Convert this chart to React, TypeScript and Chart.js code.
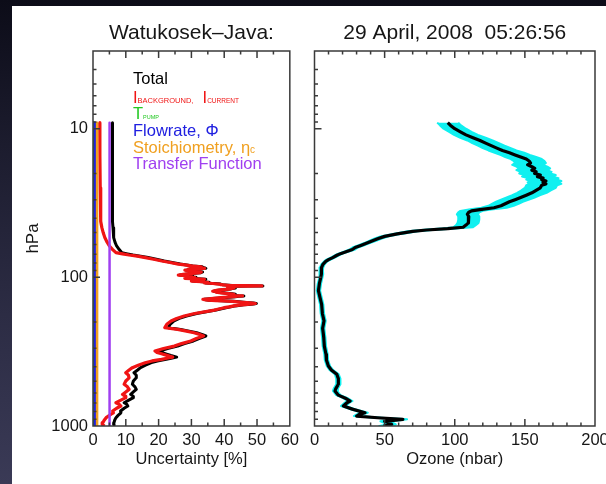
import React, { useEffect, useRef } from "react";
import { Chart, registerables } from "chart.js";

Chart.register(...registerables);

const FONT_FAMILY = '"Liberation Sans", Arial, Helvetica, sans-serif';
const TEXT_COLOR = "#161616";
const AXIS_COLOR = "#3a3a3a";

// ---------- Left panel: uncertainty contributions [%] vs pressure [hPa] ----------
const ibgPressure = [
  9.1, 15, 25, 35, 42, 46.3, 50, 54, 58, 61.5, 65, 68.2, 69.5, 70.7, 72, 73.6, 75.5, 77.6, 79.5, 81.4, 82.5,
  83.8, 84.5, 85, 85.5, 86, 86.5, 87, 87.5, 88, 89, 89.5, 90.5, 91, 92, 93, 94, 94.5, 95.5, 96.5, 97.5,
  98, 99, 100, 100.8, 101.5, 102.3, 103, 103.8, 104.5, 105.3, 106, 107, 108, 109, 110, 111, 112, 113, 113.5, 113.8,
  114.2, 114.5, 114.8, 115.4, 116, 117, 118, 119, 120, 121, 122, 123, 124, 125, 126, 127, 128, 129, 130, 131,
  132, 133, 133.4, 134, 135, 136, 137, 138, 139, 139.8, 140.5, 141.5, 142.5, 143.3, 144, 145, 146, 147, 148, 149,
  150, 151, 152, 153, 154, 155, 156, 158, 160, 162, 164, 166, 168,
  175, 182, 189, 196.5, 207, 218, 224, 230, 236, 242, 248, 258, 268, 279, 290, 301, 313, 320, 327, 335,
  344, 350, 356, 365, 375, 390, 405, 420, 438, 455, 474, 498, 524, 545, 567, 590, 613, 630, 645, 670,
  697, 715, 734, 760, 793, 815, 834, 855, 879, 915, 950, 975, 1000,
];
const ibgUncert = [
  2.05, 2.1, 2.2, 2.3, 2.4, 2.7, 3.1, 3.6, 4.3, 5.0, 6.0, 7.0, 9, 11, 13.5, 16, 18.5, 21, 23.5, 26, 28,
  30, 32, 33, 30.5, 31, 33.5, 34, 31, 29, 30.5, 28, 30, 31, 33, 32.5, 30.5, 29, 27.5, 26, 28.5,
  30, 29, 31, 29.5, 28, 31.5, 34, 32, 31, 32.5, 30, 33, 35, 34, 36.5, 38.5, 39, 41, 42, 46,
  51.5, 47, 44, 42.5, 41, 42.5, 43, 42, 41.5, 39.5, 38, 37, 36.5, 38, 37.5, 39, 40.5, 42, 43, 41.5,
  42, 44, 45.6, 44, 43, 41, 39, 37.5, 36, 34.5, 33.5, 34, 35, 37.5, 40, 42.5, 44, 45.5, 47, 48.5,
  49.5, 48.5, 47, 45.5, 44.5, 43.5, 42.6, 41.5, 40, 39, 38, 37, 35.7,
  31, 27.8, 25.5, 23.8, 22.5, 21.9, 25.8, 28.5, 30.8, 32.5, 33.7, 31.5, 29.8, 27, 24.8, 21.5, 18.9, 19.5, 20.9, 22.5,
  24.3, 22.5, 20.9, 18, 15.9, 13.8, 12, 11, 10, 10.8, 11, 10, 9.5, 10.5, 11, 10, 9, 9.8, 10, 8.5,
  7, 8, 8.5, 7.2, 6, 6.2, 5.5, 4.8, 4, 3.4, 3, 2.8, 3.5,
];
const totalPressure = ibgPressure;
const totalUncert = [
  5.9, 5.9, 5.9, 5.95, 6.0, 6.1, 6.2, 6.4, 6.7, 7.2, 8.0, 8.8, 10.5, 12.2, 14.5, 16.8, 19.3, 21.7, 24.1, 26.6, 28.5,
  30.4, 32.4, 33.4, 30.9, 31.4, 33.9, 34.4, 31.4, 29.4, 30.9, 28.4, 30.4, 31.4, 33.4, 32.9, 30.9, 29.4, 27.9, 26.5, 28.9,
  30.4, 29.4, 31.4, 29.9, 28.5, 31.9, 34.4, 32.4, 31.4, 32.9, 30.4, 33.4, 35.4, 34.4, 36.9, 38.9, 39.4, 41.4, 42.4, 46.3,
  51.8, 47.3, 44.4, 42.9, 41.4, 42.9, 43.4, 42.4, 41.9, 39.9, 38.4, 37.4, 36.9, 38.4, 37.9, 39.4, 40.9, 42.4, 43.4, 41.9,
  42.4, 44.4, 46, 44.4, 43.4, 41.4, 39.4, 37.9, 36.4, 34.9, 33.9, 34.4, 35.4, 37.9, 40.4, 42.9, 44.4, 45.9, 47.4, 48.9,
  49.8, 48.9, 47.4, 45.9, 44.9, 43.9, 43, 42, 40.5, 39.5, 38.5, 37.5, 36.2,
  31.6, 28.5, 26.3, 24.7, 23.5, 23, 26.7, 29.3, 31.6, 33.2, 34.4, 32.3, 30.6, 27.9, 25.8, 22.7, 20.3, 20.9, 22.2, 23.7,
  25.5, 23.8, 22.3, 19.6, 17.8, 16, 14.5, 13.6, 12.5, 13.2, 13.2, 12.3, 12, 12.8, 13.2, 12.3, 11.5, 12.2, 12.3, 10.9,
  9.5, 10.3, 10.6, 9.5, 8.4, 8.5, 8, 7.5, 7, 6.6, 6.4, 6.3, 6.6,
];
const constPressure = [9.1, 1000];
const tpumpUncert = [0.3, 0.3];
const flowUncert = [0.55, 0.55];
const stoichUncert = [1.25, 1.25];
const transferUncert = [5.05, 5.05];

// ---------- Right panel: ozone partial pressure [nbar] vs pressure [hPa] ----------
const ozonePressure = [
  9.1, 9.5, 10, 10.5, 11, 11.5, 12, 12.5, 13, 13.5, 14, 14.5, 15, 15.5, 16, 16.5, 17, 17.5, 18, 18.5,
  19, 19.5, 20, 20.5, 21, 21.5, 22, 22.5, 23, 23.5, 24, 25, 26, 27, 28, 29, 30, 31, 32, 33,
  34, 35, 35.7, 36.5, 37.6, 39, 41, 43, 44.5, 46, 47, 48, 49, 51, 53, 55, 57, 59, 61, 63,
  65, 67, 69, 71, 73.6, 76, 78, 81.7, 86, 90, 95, 100, 110, 123, 140, 152, 175, 196, 220, 254,
  290, 329, 360, 395, 420, 449, 480, 524, 560, 581, 620, 650, 679, 700, 734, 770, 814, 835, 857, 880,
  902, 915, 930, 950, 975, 1000,
];
const ozoneValue = [
  95, 97, 100, 104, 108, 113, 118, 122, 126, 130, 134, 139, 143, 147, 151, 153, 154, 152, 155, 157,
  155, 158, 157, 161, 159, 163, 162, 165, 163, 165, 162, 161, 158, 155, 151, 147, 143, 139, 136, 133,
  128, 118, 112, 110, 109, 110, 110, 109.5, 108, 106, 95, 80, 70, 59, 50, 45, 41, 37, 33, 29,
  27, 23, 19, 16, 13, 10, 8, 6, 5, 4.8, 5, 4.5, 3.5, 2.8, 4.2, 5.1, 5.6, 6.8, 5.8, 6.6,
  7, 8.2, 8.5, 9.9, 12, 15.9, 17, 17, 15.2, 14.6, 17, 22, 25.4, 23, 20.6, 27, 36, 32, 30.1, 45,
  63, 58, 50, 52.7, 55, 49.2,
];
const ozoneErr = [
  7.5, 7.5, 8, 8, 8.5, 9, 9, 9.5, 9.5, 10, 10, 10.5, 10.5, 11, 11, 11, 11, 11, 11, 11,
  11, 11, 11, 11, 11, 11, 11, 11, 11, 11, 11, 11, 10.5, 10.5, 10, 10, 10, 9.5, 9.5, 9,
  9, 8, 8, 7.5, 7.5, 7.5, 7.5, 7.5, 7, 7, 5, 4, 3.5, 3, 3, 2.5, 2.5, 2, 2, 2,
  2, 1.5, 1.5, 1.5, 1.5, 1.5, 1.2, 1.2, 1.2, 1.2, 1.2, 1.2, 1.2, 1.2, 1.2, 1.2, 1.2, 1.2, 1.2, 1.2,
  1.2, 1.2, 1.2, 1.2, 1.3, 1.4, 1.5, 1.5, 1.5, 1.5, 1.5, 1.6, 1.7, 1.7, 1.7, 1.8, 2, 2, 2, 2.5,
  3, 3, 3, 3, 3, 3,
];

// ---------- Axes ----------
const uncertTicks = [0, 10, 20, 30, 40, 50, 60];
const uncertMinor = [5, 15, 25, 35, 45, 55];
const ozoneTicks = [0, 50, 100, 150, 200];
const ozoneMinor = [10, 20, 30, 40, 60, 70, 80, 90, 110, 120, 130, 140, 160, 170, 180, 190];
const pressureTicks = [10, 100, 1000];
const pressureMinor = [3, 4, 5, 6, 7, 8, 9, 20, 30, 40, 50, 60, 70, 80, 90, 200, 300, 400, 500, 600, 700, 800, 900];

// ---------- Legend ----------
const legendEntries: { color: string; parts: [string, number][] }[] = [
  { color: "#000000", parts: [["Total", 16.5]] },
  { color: "#f01414", parts: [["I", 16.5], ["BACKGROUND", 7.5], [",", 7.5], ["  ", 16.5], ["I", 16.5], ["CURRENT", 6.5]] },
  { color: "#22c822", parts: [["T", 16.5], ["PUMP", 5.5]] },
  { color: "#2020e0", parts: [["Flowrate, Φ", 16.5]] },
  { color: "#f0a020", parts: [["Stoichiometry, η", 16.5], ["c", 10]] },
  { color: "#a040f0", parts: [["Transfer Function", 16.5]] },
];
const legendBaselines = [33, 52, 67.7, 85, 102, 118.3];

type Pt = { x: number; y: number };
const toPoints = (pressure: number[], values: number[]): Pt[] =>
  pressure.map((p, i) => ({ x: values[i], y: p }));

function makeFramePlugin(xMajor: number[], xMinor: number[], yMajor: number[], yMinor: number[]) {
  return {
    id: "frameTicks",
    afterDatasetsDraw(chart: any) {
      const { ctx, chartArea: a } = chart;
      const xs = chart.scales.x;
      const ys = chart.scales.y;
      ctx.save();
      ctx.strokeStyle = AXIS_COLOR;
      ctx.lineWidth = 1.5;
      ctx.beginPath();
      ctx.rect(a.left, a.top, a.right - a.left, a.bottom - a.top);
      const tx = (vals: number[], len: number) =>
        vals.forEach((v) => {
          const px = xs.getPixelForValue(v);
          ctx.moveTo(px, a.bottom);
          ctx.lineTo(px, a.bottom - len);
          ctx.moveTo(px, a.top);
          ctx.lineTo(px, a.top + len);
        });
      const ty = (vals: number[], len: number) =>
        vals.forEach((v) => {
          const py = ys.getPixelForValue(v);
          ctx.moveTo(a.left, py);
          ctx.lineTo(a.left + len, py);
        });
      tx(xMajor, 7);
      tx(xMinor, 3.5);
      ty(yMajor, 7);
      ty(yMinor, 3.5);
      ctx.stroke();
      ctx.restore();
    },
  };
}

const legendPlugin = {
  id: "profileLegend",
  afterDraw(chart: any) {
    const { ctx, chartArea: a } = chart;
    ctx.save();
    ctx.textBaseline = "alphabetic";
    ctx.textAlign = "left";
    legendEntries.forEach((entry, i) => {
      let x = a.left + 40;
      const y = a.top + legendBaselines[i];
      ctx.fillStyle = entry.color;
      entry.parts.forEach(([text, size]) => {
        ctx.font = `${size}px ${FONT_FAMILY}`;
        ctx.fillText(text, x, y);
        x += ctx.measureText(text).width;
      });
    });
    ctx.restore();
  },
};

function profile(label: string, pressure: number[], values: number[], color: string, width: number, order: number) {
  return {
    label,
    data: toPoints(pressure, values),
    borderColor: color,
    backgroundColor: color,
    borderWidth: width,
    borderJoinStyle: "round",
    borderCapStyle: "butt",
    pointRadius: 0,
    pointHoverRadius: 0,
    showLine: true,
    fill: false,
    tension: 0,
    order,
  };
}

const tickFont = { family: FONT_FAMILY, size: 16.5, weight: "normal" as const };
const titleFont = { family: FONT_FAMILY, size: 21, weight: "normal" as const };

function xScale(min: number, max: number, ticks: number[], title: string) {
  return {
    type: "linear" as const,
    min,
    max,
    afterBuildTicks: (s: any) => {
      s.ticks = ticks.map((v) => ({ value: v }));
    },
    afterFit: (s: any) => {
      s.height = 58;
    },
    grid: { display: false, drawTicks: false },
    border: { display: false },
    ticks: { font: tickFont, color: TEXT_COLOR, padding: 5, autoSkip: false, maxRotation: 0, callback: (v: any) => String(v) },
    title: { display: true, text: title, font: tickFont, color: TEXT_COLOR, padding: { top: 0, bottom: 15 } },
  };
}

function yScale(showLabels: boolean, width: number) {
  return {
    type: "logarithmic" as const,
    min: 3,
    max: 1000,
    reverse: true,
    afterBuildTicks: (s: any) => {
      s.ticks = pressureTicks.map((v) => ({ value: v }));
    },
    afterFit: (s: any) => {
      s.width = width;
    },
    grid: { display: false, drawTicks: false },
    border: { display: false },
    ticks: { display: showLabels, font: tickFont, color: TEXT_COLOR, padding: 5, autoSkip: false, callback: (v: any) => String(v) },
    title: {
      display: showLabels,
      text: "hPa",
      font: { family: FONT_FAMILY, size: 17, weight: "normal" as const },
      color: TEXT_COLOR,
      padding: { top: 11, bottom: 0 },
    },
  };
}

function titlePlugin(text: string) {
  return {
    display: true,
    text,
    font: titleFont,
    color: TEXT_COLOR,
    fullSize: false,
    padding: { top: 15, bottom: 4.8 },
  };
}

export default function App() {
  const leftRef = useRef<HTMLCanvasElement>(null);
  const rightRef = useRef<HTMLCanvasElement>(null);

  useEffect(() => {
    const left = new Chart(leftRef.current as HTMLCanvasElement, {
      type: "scatter",
      data: {
        datasets: [
          profile("Total", totalPressure, totalUncert, "#000000", 3, 6),
          profile("I background, I current", ibgPressure, ibgUncert, "#f01414", 3.2, 5),
          profile("T pump", constPressure, tpumpUncert, "#22c822", 2.5, 4),
          profile("Flowrate, Φ", constPressure, flowUncert, "#2020e0", 2.5, 3),
          profile("Stoichiometry, ηc", constPressure, stoichUncert, "#f0a020", 2.5, 2),
          profile("Transfer Function", constPressure, transferUncert, "#a040f0", 2.5, 1),
        ] as any,
      },
      options: {
        animation: false,
        responsive: false,
        events: [],
        layout: { padding: { left: 0, right: 10, top: 0, bottom: 0 } },
        plugins: {
          legend: { display: false },
          tooltip: { enabled: false },
          title: titlePlugin("Watukosek–Java:") as any,
        },
        scales: {
          x: xScale(0, 60, uncertTicks, "Uncertainty [%]") as any,
          y: yScale(true, 81) as any,
        },
      },
      plugins: [makeFramePlugin(uncertTicks, uncertMinor, pressureTicks, pressureMinor), legendPlugin],
    });

    const bandPoints: Pt[] = [
      ...ozonePressure.map((p, i) => ({ x: ozoneValue[i] - ozoneErr[i], y: p })),
      ...ozonePressure
        .map((p, i) => ({ x: ozoneValue[i] + ozoneErr[i], y: p }))
        .reverse(),
    ];

    const right = new Chart(rightRef.current as HTMLCanvasElement, {
      type: "scatter",
      data: {
        datasets: [
          profile("Ozone", ozonePressure, ozoneValue, "#000000", 3.2, 0),
          {
            label: "Ozone uncertainty",
            data: bandPoints,
            borderColor: "#10f0f0",
            backgroundColor: "#10f0f0",
            borderWidth: 2,
            borderJoinStyle: "round",
            pointRadius: 0,
            showLine: true,
            fill: "shape",
            tension: 0,
            order: 1,
          },
        ] as any,
      },
      options: {
        animation: false,
        responsive: false,
        events: [],
        layout: { padding: { left: 0, right: 29, top: 0, bottom: 0 } },
        plugins: {
          legend: { display: false },
          tooltip: { enabled: false },
          title: titlePlugin("29 April, 2008  05:26:56") as any,
        },
        scales: {
          x: xScale(0, 200, ozoneTicks, "Ozone (nbar)") as any,
          y: yScale(false, 10.5) as any,
        },
      },
      plugins: [makeFramePlugin(ozoneTicks, ozoneMinor, pressureTicks, pressureMinor)],
    });

    return () => {
      left.destroy();
      right.destroy();
    };
  }, []);

  return (
    <div
      style={{
        position: "fixed",
        left: 0,
        top: 0,
        width: 606,
        height: 484,
        overflow: "hidden",
        background: "linear-gradient(180deg, #0c0c18 0%, #1c1c2e 30%, #2c2c44 65%, #3a3a56 100%)",
      }}
    >
      <div style={{ position: "absolute", left: 12, top: 6, right: 0, bottom: 0, background: "#ffffff" }} />
      <div style={{ position: "absolute", left: 12, top: 6, width: 292, height: 478 }}>
        <canvas ref={leftRef} width={292} height={478} style={{ display: "block" }} />
      </div>
      <div style={{ position: "absolute", left: 304, top: 6, width: 320, height: 478 }}>
        <canvas ref={rightRef} width={320} height={478} style={{ display: "block" }} />
      </div>
    </div>
  );
}
